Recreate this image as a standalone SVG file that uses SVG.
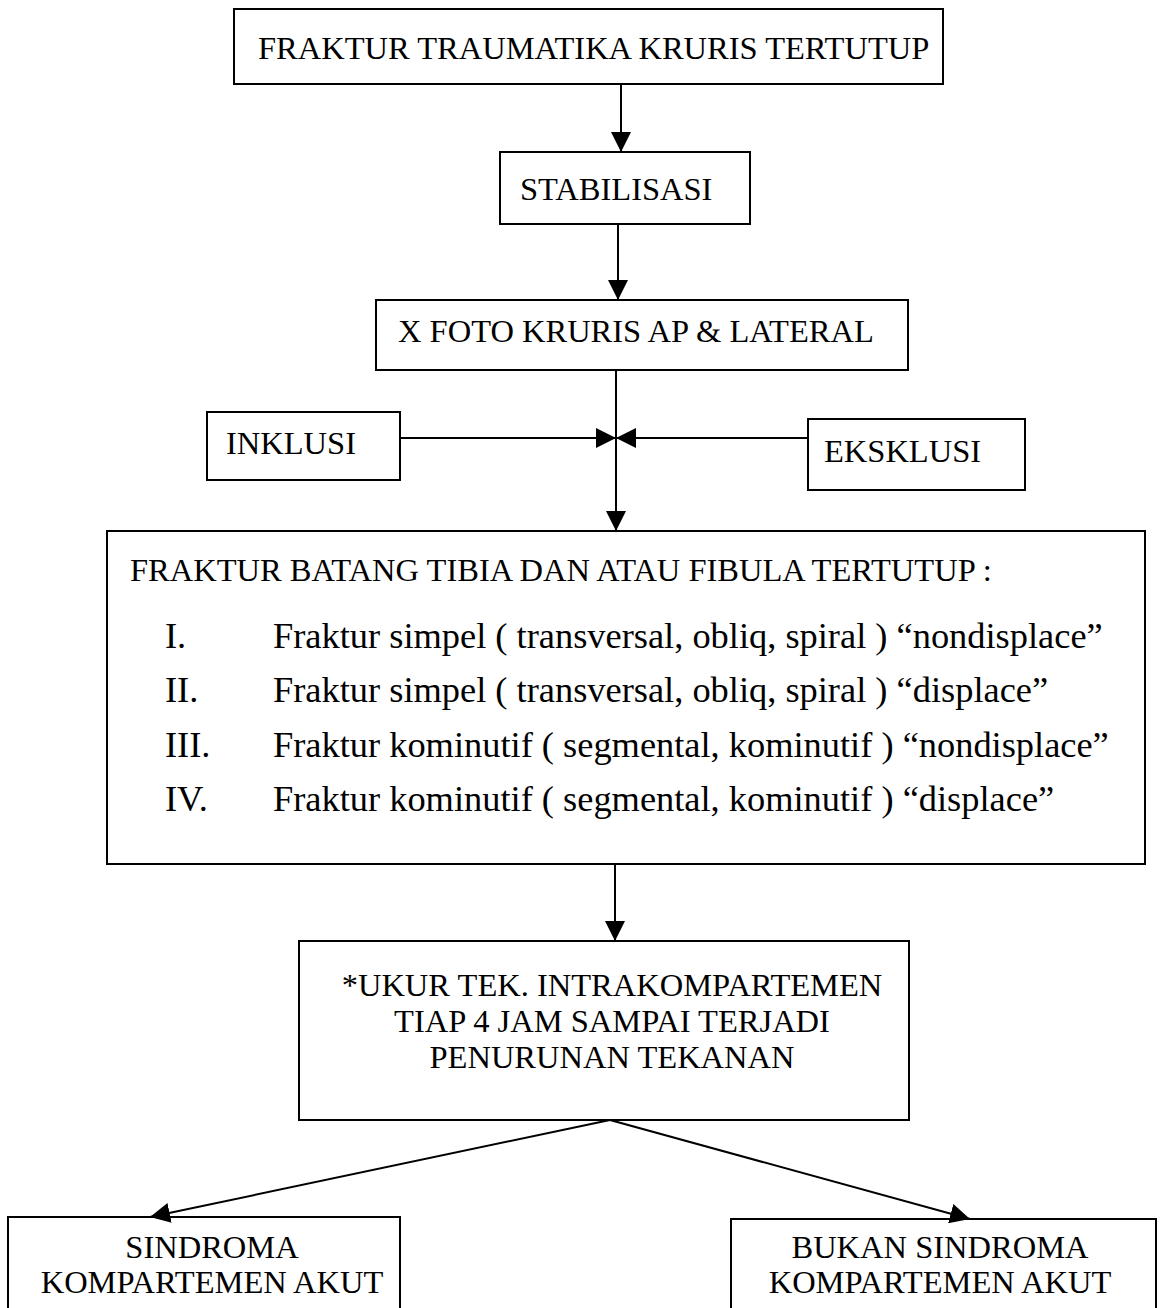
<svg xmlns="http://www.w3.org/2000/svg" width="1166" height="1308" viewBox="0 0 1166 1308">
<style>
.box{fill:none;stroke:#000;stroke-width:2}
.t{font-family:"Liberation Serif","Times New Roman",serif;font-size:32.5px;fill:#000}
.li{font-size:36.4px}
.c{text-anchor:middle}
.ln{stroke:#000;stroke-width:2;fill:none}
</style>
<defs>
<marker id="ah" markerUnits="userSpaceOnUse" markerWidth="20" markerHeight="20" refX="20" refY="10" orient="auto" viewBox="0 0 20 20">
<path d="M0,0 L20,10 L0,20 z" fill="#000"/>
</marker>
</defs>
<rect width="1166" height="1308" fill="#fff"/>
<g id="connectors">
<line class="ln" x1="621" y1="84" x2="621" y2="152" marker-end="url(#ah)"/>
<line class="ln" x1="618" y1="224" x2="618" y2="300" marker-end="url(#ah)"/>
<line class="ln" x1="616" y1="370" x2="616" y2="531" marker-end="url(#ah)"/>
<line class="ln" x1="400" y1="438" x2="616" y2="438" marker-end="url(#ah)"/>
<line class="ln" x1="808" y1="438" x2="616" y2="438" marker-end="url(#ah)"/>
<line class="ln" x1="615" y1="864" x2="615" y2="941" marker-end="url(#ah)"/>
<line class="ln" x1="610" y1="1120" x2="150" y2="1217" marker-end="url(#ah)"/>
<line class="ln" x1="610" y1="1120" x2="970" y2="1219" marker-end="url(#ah)"/>
</g>
<g id="n1"><rect class="box" x="234" y="9" width="709" height="75"/><text class="t" x="258" y="59">FRAKTUR TRAUMATIKA KRURIS TERTUTUP</text></g>
<g id="n2"><rect class="box" x="500" y="152" width="250" height="72"/><text class="t" x="520" y="200">STABILISASI</text></g>
<g id="n3"><rect class="box" x="376" y="300" width="532" height="70"/><text class="t" x="398" y="342">X FOTO KRURIS AP &amp; LATERAL</text></g>
<g id="n4"><rect class="box" x="207" y="412" width="193" height="68"/><text class="t" x="226" y="454">INKLUSI</text></g>
<g id="n5"><rect class="box" x="808" y="419" width="217" height="71"/><text class="t" x="824" y="462">EKSKLUSI</text></g>
<g id="n6"><rect class="box" x="107" y="531" width="1038" height="333"/>
<text class="t" x="130" y="581">FRAKTUR BATANG TIBIA DAN ATAU FIBULA TERTUTUP :</text>
<text class="t li" x="165" y="648">I.</text><text class="t li" x="273" y="648">Fraktur simpel ( transversal, obliq, spiral ) “nondisplace”</text>
<text class="t li" x="165" y="702">II.</text><text class="t li" x="273" y="702">Fraktur simpel ( transversal, obliq, spiral ) “displace”</text>
<text class="t li" x="165" y="757">III.</text><text class="t li" x="273" y="757">Fraktur kominutif ( segmental, kominutif ) “nondisplace”</text>
<text class="t li" x="165" y="811">IV.</text><text class="t li" x="273" y="811">Fraktur kominutif ( segmental, kominutif ) “displace”</text>
</g>
<g id="n7"><rect class="box" x="299" y="941" width="610" height="179"/>
<text class="t c" x="612" y="996">*UKUR TEK. INTRAKOMPARTEMEN</text>
<text class="t c" x="612" y="1032">TIAP 4 JAM SAMPAI TERJADI</text>
<text class="t c" x="612" y="1068">PENURUNAN TEKANAN</text>
</g>
<g id="n8"><rect class="box" x="8" y="1217" width="392" height="100"/>
<text class="t c" x="212" y="1258">SINDROMA</text>
<text class="t c" x="212" y="1293">KOMPARTEMEN AKUT</text>
</g>
<g id="n9"><rect class="box" x="731" y="1219" width="425" height="100"/>
<text class="t c" x="940" y="1258">BUKAN SINDROMA</text>
<text class="t c" x="940" y="1293">KOMPARTEMEN AKUT</text>
</g>
</svg>
